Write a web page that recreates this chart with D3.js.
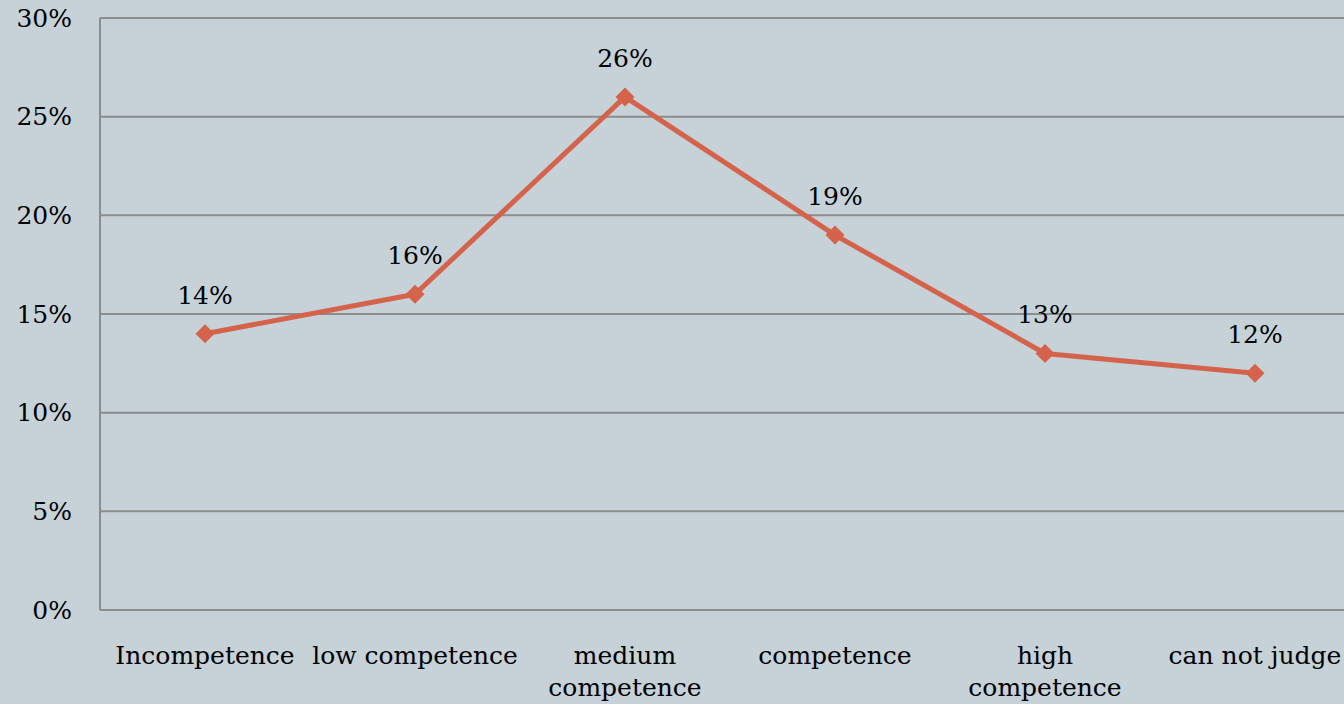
<!DOCTYPE html>
<html>
<head>
<meta charset="utf-8">
<script src="https://cdn.jsdelivr.net/npm/d3@7"></script>
<style>
html, body { margin: 0; padding: 0; background: #c6d2d8; overflow: hidden; }
svg { display: block; }
text { font-family: "DejaVu Serif", Georgia, serif; fill: #000; }
</style>
</head>
<body>
<svg id="chart" width="1344" height="704"></svg>
<script>
const categories = [["Incompetence"], ["low competence"], ["medium", "competence"], ["competence"], ["high", "competence"], ["can not judge"]];
const values = [14, 16, 26, 19, 13, 12];
const tickValues = [0, 5, 10, 15, 20, 25, 30];

(function () {
const W = 1344, H = 704;
const left = 100, plotTop = 18, bottom = 610, bandW = 210;
const fs = 25;
const svg = d3.select("#chart");
svg.append("rect").attr("width", W).attr("height", H).attr("fill", "#c6d2d8");

const keys = categories.map(c => c.join(" "));
const x = d3.scaleBand().domain(keys).range([left, left + bandW * keys.length]).padding(0);
const y = d3.scaleLinear().domain([0, 30]).range([bottom, plotTop]);

svg.append("g").selectAll("line").data(tickValues).join("line")
  .attr("x1", left).attr("x2", W)
  .attr("y1", d => y(d)).attr("y2", d => y(d))
  .attr("stroke", "#8c8c8c").attr("stroke-width", 2);
svg.append("line").attr("x1", left).attr("x2", left).attr("y1", y(30)).attr("y2", y(0))
  .attr("stroke", "#8c8c8c").attr("stroke-width", 2);

svg.append("g").selectAll("text").data(tickValues).join("text")
  .attr("x", 72).attr("y", d => y(d)).attr("dy", "0.35em")
  .attr("text-anchor", "end").attr("font-size", fs)
  .text(d => d + "%");

const xl = svg.append("g").selectAll("text").data(categories).join("text")
  .attr("text-anchor", "middle").attr("font-size", fs)
  .attr("x", (d, i) => x(keys[i]) + x.bandwidth() / 2)
  .attr("y", 664);
xl.selectAll("tspan").data(d => d).join("tspan")
  .attr("x", function () { return d3.select(this.parentNode).attr("x"); })
  .attr("dy", (d, i) => i === 0 ? 0 : 32)
  .text(d => d);

const cx = i => x(keys[i]) + x.bandwidth() / 2;
const line = d3.line().x((d, i) => cx(i)).y(d => y(d));
svg.append("path").datum(values).attr("d", line)
  .attr("fill", "none").attr("stroke", "#d5624a").attr("stroke-width", 5)
  .attr("stroke-linejoin", "round");

svg.append("g").selectAll("path").data(values).join("path")
  .attr("d", d3.symbol().type(d3.symbolDiamond2).size(230))
  .attr("transform", (d, i) => `translate(${cx(i)},${y(d)})`)
  .attr("fill", "#d5624a");

svg.append("g").selectAll("text").data(values).join("text")
  .attr("text-anchor", "middle").attr("font-size", fs)
  .attr("x", (d, i) => cx(i)).attr("y", d => y(d) - 30)
  .text(d => d + "%");
})();
</script>
</body>
</html>
